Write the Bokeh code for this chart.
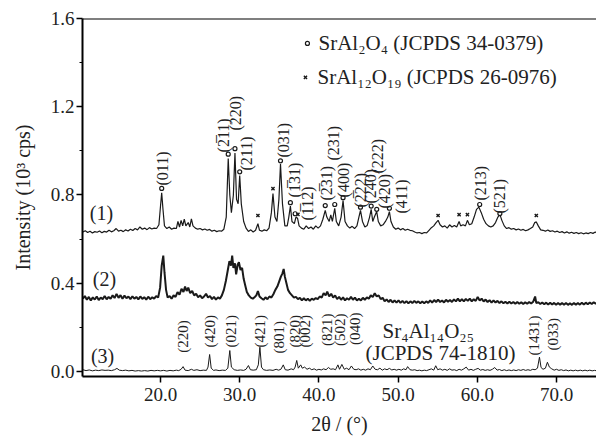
from bokeh.plotting import figure
from bokeh.models import Range1d, FixedTicker, NumeralTickFormatter, Span, Label, ColumnDataSource
from bokeh.embed import file_html
from bokeh.resources import INLINE
from bokeh.core.properties import value
import math

FONT = "Liberation Serif"

# ---------------- data ----------------
# trace (1): 2theta / intensity (10^3 cps)
x1 = [10.2,10.5,10.8,11.1,11.4,11.7,12.0,12.3,12.6,12.9,13.2,13.5,13.8,14.1,14.4,14.7,15.0,15.3,15.6,15.9,
      16.2,16.5,16.8,17.1,17.4,17.7,18.0,18.3,18.6,18.9,19.2,19.5,19.8,20.0,20.15,20.3,20.5,20.8,21.1,21.4,
      21.7,22.0,22.2,22.4,22.6,22.8,23.0,23.2,23.5,23.7,23.9,24.1,24.4,24.7,25.0,25.3,25.6,25.9,26.2,26.5,
      26.8,27.1,27.4,27.7,28.0,28.3,28.55,28.75,28.95,29.2,29.4,29.6,29.8,30.0,30.2,30.5,30.8,31.1,31.4,31.7,
      32.0,32.3,32.5,32.8,33.1,33.4,33.7,34.0,34.2,34.45,34.7,34.95,35.15,35.4,35.7,36.0,36.2,36.4,36.6,36.9,
      37.1,37.3,37.5,37.8,38.1,38.4,38.7,39.0,39.3,39.6,39.9,40.2,40.5,40.8,41.0,41.3,41.5,41.7,42.0,42.2,
      42.5,42.8,43.05,43.3,43.6,43.9,44.2,44.5,44.8,45.05,45.25,45.5,45.8,46.1,46.4,46.6,46.8,47.0,47.3,47.5,
      47.8,48.1,48.4,48.7,48.9,49.1,49.4,49.7,50.0,50.3,50.6,50.9,51.2,51.5,51.8,52.1,52.4,52.7,53.0,53.3,
      53.6,53.9,54.2,54.5,54.8,55.05,55.3,55.6,55.9,56.2,56.5,56.8,57.1,57.4,57.7,57.9,58.2,58.5,58.75,59.0,
      59.3,59.6,59.9,60.2,60.5,60.8,61.1,61.4,61.7,62.0,62.3,62.6,62.85,63.1,63.4,63.7,64.0,64.3,64.6,64.9,
      65.2,65.5,65.8,66.1,66.4,66.7,67.0,67.25,67.45,67.7,68.0,68.3,68.6,68.9,69.2,69.5,69.8,70.1,70.4,70.7,
      71.0,71.3,71.6,71.9,72.2,72.5,72.8,73.1,73.4,73.7,74.0,74.3,74.6,74.9,75.1]
y1 = [0.632,0.638,0.630,0.636,0.628,0.634,0.631,0.637,0.629,0.635,0.632,0.640,0.633,0.638,0.648,0.636,0.640,0.634,0.642,0.637,
      0.645,0.639,0.648,0.642,0.655,0.645,0.650,0.643,0.652,0.646,0.650,0.648,0.665,0.750,0.810,0.740,0.660,0.648,0.655,0.645,
      0.650,0.648,0.680,0.655,0.685,0.660,0.690,0.660,0.675,0.655,0.692,0.660,0.650,0.645,0.648,0.642,0.646,0.640,0.644,0.636,
      0.640,0.634,0.638,0.636,0.645,0.700,0.965,0.800,0.720,0.800,0.990,0.780,0.760,0.888,0.760,0.680,0.650,0.635,0.642,0.632,
      0.640,0.670,0.640,0.636,0.642,0.638,0.650,0.720,0.806,0.700,0.680,0.780,0.940,0.760,0.660,0.660,0.700,0.750,0.680,0.670,
      0.700,0.695,0.660,0.650,0.645,0.660,0.648,0.655,0.645,0.660,0.650,0.660,0.690,0.730,0.700,0.680,0.710,0.680,0.740,0.680,
      0.660,0.700,0.775,0.680,0.660,0.650,0.658,0.648,0.660,0.700,0.730,0.680,0.655,0.662,0.700,0.735,0.680,0.700,0.725,0.680,
      0.660,0.665,0.680,0.700,0.725,0.680,0.655,0.645,0.650,0.642,0.648,0.640,0.645,0.640,0.638,0.632,0.628,0.630,0.625,0.630,
      0.628,0.640,0.652,0.660,0.675,0.685,0.665,0.655,0.660,0.650,0.665,0.655,0.662,0.655,0.680,0.660,0.665,0.660,0.685,0.665,
      0.670,0.700,0.735,0.745,0.720,0.690,0.670,0.660,0.655,0.660,0.675,0.700,0.712,0.685,0.660,0.648,0.652,0.645,0.648,0.642,
      0.646,0.640,0.644,0.638,0.642,0.648,0.655,0.675,0.678,0.660,0.642,0.640,0.636,0.641,0.635,0.638,0.632,0.636,0.630,0.634,
      0.628,0.633,0.627,0.631,0.626,0.630,0.625,0.629,0.624,0.628,0.625,0.630,0.626,0.632,0.628]

# trace (2)
x2 = [10.2,10.45,10.7,10.95,11.2,11.45,11.7,11.95,12.2,12.45,12.7,12.95,13.2,13.45,13.7,13.95,14.2,14.45,14.7,14.95,
      15.2,15.45,15.7,15.95,16.2,16.45,16.7,16.95,17.2,17.45,17.7,17.95,18.2,18.45,18.7,18.95,19.2,19.45,19.7,19.95,
      20.15,20.35,20.5,20.7,20.9,21.15,21.4,21.65,21.9,22.15,22.4,22.65,22.9,23.1,23.3,23.5,23.75,24.0,24.25,24.5,
      24.75,25.0,25.25,25.5,25.75,26.0,26.25,26.5,26.75,27.0,27.25,27.5,27.75,28.0,28.25,28.5,28.7,28.9,29.05,29.2,
      29.4,29.55,29.75,29.9,30.1,30.3,30.5,30.7,30.9,31.15,31.4,31.65,31.9,32.1,32.3,32.5,32.75,33.0,33.25,33.5,
      33.75,34.0,34.25,34.5,34.75,35.0,35.2,35.4,35.55,35.7,35.9,36.1,36.35,36.6,36.85,37.1,37.35,37.6,37.85,38.1,
      38.35,38.6,38.85,39.1,39.35,39.6,39.85,40.1,40.35,40.6,40.85,41.05,41.3,41.55,41.8,42.05,42.3,42.55,42.8,43.05,
      43.3,43.55,43.8,44.05,44.3,44.55,44.8,45.05,45.3,45.55,45.8,46.05,46.3,46.55,46.8,47.05,47.3,47.55,47.8,48.05,
      48.3,48.55,48.8,49.05,49.3,49.55,49.8,50.05,50.3,50.55,50.8,51.05,51.3,51.55,51.8,52.05,52.3,52.55,52.8,53.05,
      53.3,53.55,53.8,54.05,54.3,54.55,54.8,55.05,55.3,55.55,55.8,56.05,56.3,56.55,56.8,57.05,57.3,57.55,57.8,58.05,
      58.3,58.55,58.8,59.05,59.3,59.55,59.8,60.05,60.3,60.55,60.8,61.05,61.3,61.55,61.8,62.05,62.3,62.55,62.8,63.05,
      63.3,63.55,63.8,64.05,64.3,64.55,64.8,65.05,65.3,65.55,65.8,66.05,66.3,66.55,66.8,67.05,67.3,67.45,67.7,67.95,
      68.2,68.45,68.7,68.95,69.2,69.45,69.7,69.95,70.2,70.45,70.7,70.95,71.2,71.45,71.7,71.95,72.2,72.45,72.7,72.95,
      73.2,73.45,73.7,73.95,74.2,74.45,74.7,74.95,75.1]
y2 = [0.330,0.342,0.325,0.338,0.322,0.336,0.326,0.340,0.324,0.335,0.328,0.342,0.327,0.338,0.330,0.345,0.333,0.352,0.334,0.346,
      0.330,0.344,0.332,0.340,0.328,0.341,0.330,0.338,0.327,0.340,0.329,0.337,0.326,0.339,0.328,0.336,0.330,0.342,0.335,0.380,
      0.480,0.525,0.450,0.370,0.335,0.342,0.330,0.345,0.338,0.360,0.348,0.375,0.360,0.385,0.365,0.380,0.355,0.365,0.345,0.352,
      0.337,0.345,0.332,0.340,0.352,0.335,0.342,0.328,0.338,0.326,0.336,0.330,0.345,0.370,0.410,0.460,0.500,0.480,0.525,0.470,
      0.490,0.440,0.485,0.495,0.460,0.470,0.420,0.390,0.360,0.345,0.335,0.330,0.338,0.345,0.365,0.340,0.332,0.325,0.336,0.328,
      0.340,0.335,0.350,0.370,0.385,0.410,0.430,0.445,0.465,0.430,0.400,0.370,0.355,0.345,0.335,0.338,0.328,0.334,0.322,0.332,
      0.322,0.330,0.320,0.330,0.325,0.333,0.328,0.340,0.335,0.355,0.345,0.362,0.340,0.352,0.335,0.345,0.328,0.338,0.325,0.336,
      0.322,0.332,0.325,0.338,0.325,0.335,0.322,0.330,0.322,0.334,0.325,0.336,0.330,0.345,0.338,0.355,0.340,0.345,0.328,0.334,
      0.318,0.327,0.315,0.325,0.313,0.322,0.312,0.322,0.311,0.320,0.310,0.319,0.309,0.318,0.310,0.320,0.311,0.318,0.309,0.317,
      0.309,0.318,0.311,0.322,0.312,0.324,0.315,0.326,0.315,0.322,0.313,0.325,0.316,0.324,0.315,0.327,0.318,0.330,0.318,0.328,
      0.318,0.329,0.320,0.330,0.318,0.328,0.320,0.338,0.322,0.330,0.317,0.326,0.315,0.323,0.312,0.322,0.313,0.320,0.310,0.318,
      0.309,0.316,0.308,0.316,0.308,0.315,0.307,0.315,0.307,0.314,0.306,0.314,0.307,0.315,0.308,0.316,0.340,0.310,0.314,0.306,
      0.313,0.305,0.312,0.304,0.312,0.304,0.311,0.303,0.311,0.303,0.310,0.302,0.310,0.302,0.309,0.302,0.310,0.303,0.311,0.303,
      0.312,0.304,0.312,0.305,0.313,0.306,0.314,0.307,0.312]

# trace (3)
x3 = [10.2,10.6,11.0,11.4,11.8,12.2,12.6,13.0,13.4,13.8,14.2,14.5,14.8,15.2,15.6,16.0,16.4,16.8,17.2,17.6,
      18.0,18.4,18.8,19.2,19.6,20.0,20.4,20.8,21.2,21.6,22.0,22.3,22.6,22.85,23.1,23.5,23.9,24.2,24.6,25.0,
      25.4,25.8,26.0,26.2,26.4,26.7,27.0,27.4,27.8,28.2,28.5,28.75,28.95,29.3,29.7,30.1,30.5,30.8,31.1,31.35,
      31.7,32.1,32.35,32.55,32.75,33.0,33.4,33.8,34.2,34.6,34.9,35.2,35.5,35.75,36.1,36.5,36.8,37.0,37.2,37.4,
      37.7,37.9,38.2,38.5,38.8,39.1,39.4,39.7,40.0,40.3,40.6,40.9,41.2,41.5,41.8,42.1,42.4,42.6,42.9,43.2,
      43.5,43.8,44.1,44.4,44.7,45.0,45.3,45.6,45.9,46.2,46.5,46.8,47.1,47.4,47.7,48.0,48.3,48.6,48.9,49.2,
      49.5,49.8,50.1,50.4,50.7,51.0,51.2,51.5,51.8,52.1,52.4,52.7,53.0,53.3,53.6,53.9,54.2,54.5,54.75,55.0,
      55.3,55.6,55.9,56.2,56.5,56.8,57.1,57.4,57.7,58.0,58.3,58.6,58.9,59.2,59.5,59.8,60.1,60.4,60.7,61.0,
      61.3,61.6,61.9,62.2,62.5,62.8,63.1,63.4,63.7,64.0,64.3,64.6,64.9,65.2,65.5,65.8,66.1,66.4,66.7,67.0,
      67.3,67.6,67.85,68.05,68.3,68.6,68.85,69.1,69.4,69.7,70.0,70.3,70.6,70.9,71.2,71.5,71.8,72.1,72.4,72.7,
      73.0,73.3,73.6,73.9,74.2,74.5,74.8,75.1]
y3 = [0.008,0.004,0.007,0.003,0.006,0.004,0.007,0.005,0.006,0.004,0.008,0.014,0.006,0.004,0.006,0.003,0.005,0.002,0.004,0.002,
      0.004,0.002,0.005,0.003,0.005,0.003,0.005,0.002,0.005,0.003,0.006,0.004,0.010,0.022,0.006,0.004,0.010,0.005,0.008,0.004,
      0.006,0.005,0.020,0.077,0.015,0.005,0.007,0.004,0.006,0.005,0.015,0.095,0.020,0.008,0.005,0.007,0.005,0.010,0.027,0.008,
      0.006,0.008,0.030,0.110,0.020,0.008,0.005,0.007,0.005,0.010,0.006,0.010,0.030,0.008,0.006,0.012,0.008,0.020,0.050,0.015,
      0.030,0.015,0.020,0.010,0.015,0.008,0.012,0.006,0.010,0.007,0.012,0.008,0.018,0.010,0.012,0.008,0.030,0.010,0.032,0.010,
      0.015,0.008,0.025,0.010,0.008,0.012,0.006,0.010,0.006,0.012,0.008,0.025,0.010,0.008,0.015,0.006,0.012,0.008,0.014,0.007,
      0.010,0.006,0.010,0.006,0.012,0.008,0.022,0.008,0.006,0.008,0.004,0.006,0.003,0.006,0.004,0.008,0.012,0.006,0.026,0.008,
      0.012,0.006,0.010,0.005,0.012,0.006,0.008,0.004,0.010,0.006,0.012,0.020,0.006,0.010,0.005,0.010,0.014,0.006,0.009,0.005,
      0.008,0.005,0.010,0.018,0.006,0.009,0.004,0.008,0.004,0.007,0.004,0.007,0.004,0.008,0.005,0.009,0.005,0.008,0.005,0.010,
      0.008,0.015,0.065,0.018,0.010,0.015,0.042,0.020,0.012,0.006,0.010,0.005,0.008,0.004,0.007,0.003,0.006,0.003,0.006,0.003,
      0.006,0.003,0.006,0.003,0.006,0.003,0.005,0.003]

# phase markers on trace (1)
circ_x = [20.15, 28.55, 29.4, 30.0, 35.15, 36.4, 37.0, 40.8, 42.0, 43.05, 45.25, 46.6, 47.3, 48.9, 60.3, 62.85]
circ_y = [0.830, 0.985, 1.010, 0.905, 0.955, 0.765, 0.715, 0.752, 0.757, 0.788, 0.745, 0.750, 0.735, 0.740, 0.757, 0.716]
cross_x = [32.3, 34.2, 37.35, 55.05, 57.7, 58.75, 67.45]
cross_y = [0.707, 0.829, 0.712, 0.707, 0.711, 0.711, 0.707]

# Miller-index labels (x, y of label foot)
hkl1_text = ["(011)", "(2\u030511)", "(220)", "(211)", "(031)", "(1\u030531)", "(1\u030512)", "(2\u030531)", "(231)",
             "(400)", "(2\u030522)", "(240)", "(222)", "(420)", "(411)", "(213)", "(521)"]
hkl1_x = [20.25, 27.95, 29.47, 30.86, 35.53, 36.92, 38.56, 40.96, 41.84, 43.10, 45.25, 46.51, 47.40, 48.28, 50.43, 60.40, 62.80]
hkl1_y = [0.843, 0.993, 1.092, 0.911, 0.970, 0.789, 0.684, 0.775, 0.956, 0.789, 0.743, 0.761, 0.897, 0.739, 0.716, 0.775, 0.716]

hkl3_text = ["(220)", "(420)", "(021)", "(421)", "(801)", "(820)", "(002)", "(821)", "(502)", "(040)", "(1431)", "(033)"]
hkl3_x = [22.9, 26.3, 28.84, 32.6, 34.9, 37.0, 38.3, 41.08, 42.7, 44.6, 67.1, 69.6]
hkl3_y = [0.085, 0.109, 0.109, 0.109, 0.082, 0.109, 0.109, 0.116, 0.116, 0.120, 0.073, 0.095]

curve_names = ["(1)", "(2)", "(3)"]
curve_name_x = [12.55, 12.93, 12.68]
curve_name_y = [0.720, 0.421, 0.072]

x_ticks = [20, 30, 40, 50, 60, 70]
y_ticks = [0.0, 0.4, 0.8, 1.2, 1.6]
y_minor = [0.2, 0.6, 1.0, 1.4]

# ---------------- figure ----------------
p = figure(width=596, height=443, output_backend="svg", toolbar_location=None,
           x_range=Range1d(10.15, 75.05), y_range=Range1d(-0.0227, 1.6),
           min_border_left=82, min_border_right=0, min_border_top=18, min_border_bottom=67)
p.outline_line_color = None
p.xgrid.visible = False
p.ygrid.visible = False

p.xaxis.ticker = FixedTicker(ticks=x_ticks)
p.yaxis.ticker = FixedTicker(ticks=y_ticks, minor_ticks=y_minor)
p.xaxis.formatter = NumeralTickFormatter(format="0.0")
p.yaxis.formatter = NumeralTickFormatter(format="0.0")
for ax in (p.xaxis[0], p.yaxis[0]):
    ax.axis_line_width = 2
    ax.axis_line_color = "black"
    ax.major_tick_line_color = "black"
    ax.major_tick_line_width = 1.5
    ax.major_tick_in = 0
    ax.major_tick_out = 6
    ax.minor_tick_in = 0
    ax.minor_tick_out = 3
    ax.minor_tick_line_color = "black"
    ax.major_label_text_font = FONT
    ax.major_label_text_font_size = "19px"
    ax.major_label_text_color = "#222222"
    ax.axis_label_text_font = FONT
    ax.axis_label_text_font_style = "normal"
    ax.axis_label_text_font_size = "20px"
    ax.axis_label_text_color = "#222222"
p.xaxis.minor_tick_line_color = None
p.xaxis.major_label_standoff = 5
p.yaxis.major_label_standoff = 2
p.xaxis.axis_label = "2\u03b8 / (\u00b0)"
p.yaxis.axis_label = "Intensity (10\u00b3 cps)"
p.xaxis.axis_label_standoff = 9
p.yaxis.axis_label_standoff = 14

p.add_layout(Span(location=1.6, dimension="width", line_color="black", line_width=2))

p.line(x1, y1, line_color="#1a1a1a", line_width=1.2)
p.line(x2, y2, line_color="#1a1a1a", line_width=2.0)
p.line(x3, y3, line_color="#1a1a1a", line_width=1.0)

p.scatter(circ_x, circ_y, marker="circle", size=4, fill_color="white", line_color="#1a1a1a", line_width=1.2)
p.scatter(cross_x, cross_y, marker="x", size=4.5, line_color="#1a1a1a", line_width=1.4)

src1 = ColumnDataSource(dict(x=hkl1_x, y=hkl1_y, t=hkl1_text))
p.text(x="x", y="y", text="t", source=src1, angle=math.pi / 2, text_align="left", text_baseline="middle",
       text_font=value(FONT), text_font_size="16px", text_color="#222222")
src3 = ColumnDataSource(dict(x=hkl3_x, y=hkl3_y, t=hkl3_text))
p.text(x="x", y="y", text="t", source=src3, angle=math.pi / 2, text_align="left", text_baseline="middle",
       text_font=value(FONT), text_font_size="15px", text_color="#222222")
srcn = ColumnDataSource(dict(x=curve_name_x, y=curve_name_y, t=curve_names))
p.text(x="x", y="y", text="t", source=srcn, text_align="center", text_baseline="middle",
       text_font=value(FONT), text_font_size="20px", text_color="#222222")

# legend (phase key)
p.scatter([38.55], [1.487], marker="circle", size=4, fill_color="white", line_color="#1a1a1a", line_width=1.2)
p.scatter([38.3], [1.333], marker="x", size=4.5, line_color="#1a1a1a", line_width=1.4)
for txt, lx, ly in [("SrAl\u2082O\u2084 (JCPDS 34-0379)", 39.95, 1.487),
                    ("SrAl\u2081\u2082O\u2081\u2089 (JCPDS 26-0976)", 39.82, 1.333),
                    ("Sr\u2084Al\u2081\u2084O\u2082\u2085", 48.03, 0.185),
                    ("(JCPDS 74-1810)", 45.88, 0.082)]:
    p.add_layout(Label(x=lx, y=ly, text=txt, text_align="left", text_baseline="middle",
                       text_font=FONT, text_font_size="21px", text_color="#222222"))

open("out.html", "w").write(file_html(p, INLINE))
